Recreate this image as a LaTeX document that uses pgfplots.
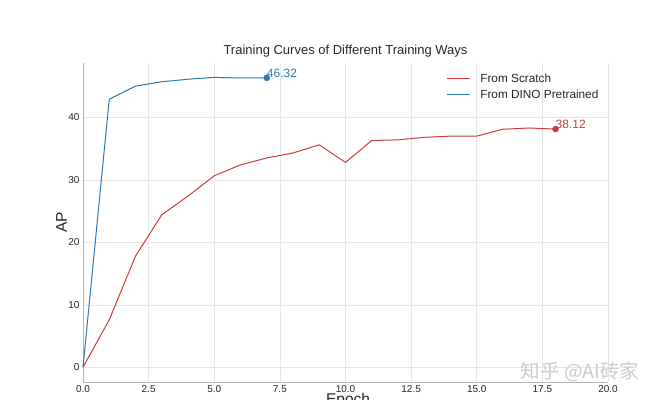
\documentclass[border=0pt]{standalone}
\usepackage{pgfplots}
\pgfplotsset{compat=1.18}
\usepackage{fontspec}
\setmainfont{Liberation Sans}
\newfontfamily\cjk{Noto Sans CJK SC}
\definecolor{cred}{HTML}{D03A3A}
\definecolor{cblue}{HTML}{2A7AB0}
\definecolor{gridc}{HTML}{E6E6E6}
\definecolor{spinec}{HTML}{B5B5B5}
\definecolor{txt}{HTML}{262626}
\begin{document}
\begin{tikzpicture}
\useasboundingbox (0pt,0pt) rectangle (658pt,399pt);
\clip (0pt,0pt) rectangle (658pt,399pt);
\begin{axis}[
  at={(83pt,17pt)}, anchor=south west,
  scale only axis, width=525pt, height=319pt,
  xmin=0, xmax=20, ymin=-2.35, ymax=48.7,
  xtick={0,2.5,...,20}, ytick={0,10,20,30,40},
  xticklabel style={/pgf/number format/fixed, /pgf/number format/fixed zerofill, /pgf/number format/precision=1},
  /pgf/number format/assume math mode=true,
  tick label style={font=\fontsize{10}{12}\selectfont, text=txt},
  axis x line*=bottom, axis y line*=left,
  axis line style={spinec, line width=0.8pt, -},
  major tick length=0pt,
  grid=major, grid style={gridc, line width=0.6pt},
  clip=false,
  title={Training Curves of Different Training Ways},
  title style={font=\fontsize{13}{16}\selectfont, text=txt, at={(axis description cs:0.5,1)}, anchor=base, yshift=2pt},
  ylabel={AP},
  ylabel style={font=\fontsize{15.5}{18}\selectfont, text=txt, at={(axis description cs:-0.041,0.5)}, anchor=center},
  xlabel={Epoch},
  xlabel style={font=\fontsize{15.5}{18}\selectfont, text=txt, at={(axis description cs:0.505,0)}, anchor=north, inner sep=0pt, yshift=-11.5pt},
  legend style={draw=none, fill=none, at={(axis description cs:0.686,0.98)}, anchor=north west, font=\fontsize{11.8}{15}\selectfont, text=txt, row sep=2pt},
  legend cell align=left,
  legend image code/.code={\draw[#1] (0pt,0pt) -- (23pt,0pt); \path (31pt,0pt);},
]
\addplot[cred, line width=1pt, mark=none] coordinates {
(0,0) (1,7.6) (2,17.8) (3,24.4) (4,27.4) (5,30.65) (6,32.4) (7,33.5) (8,34.3) (9,35.6)
(10,32.8) (11,36.3) (12,36.4) (13,36.8) (14,37.0) (15,37.0) (16,38.1) (17,38.3) (18,38.12)};
\addlegendentry{From Scratch}
\addplot[cblue, line width=1pt, mark=none] coordinates {
(0,0) (1,42.9) (2,45.0) (3,45.7) (4,46.1) (5,46.4) (6,46.3) (7,46.32)};
\addlegendentry{From DINO Pretrained}
\addplot[cred, only marks, mark=*, mark size=3pt, forget plot,
  nodes near coords={38.12}, nodes near coords align={anchor=south west},
  every node near coord/.append style={inner sep=0pt, text=cred, font=\fontsize{12}{14}\selectfont, yshift=0.5pt}]
  coordinates {(18,38.12)};
\addplot[cblue, only marks, mark=*, mark size=3pt, forget plot,
  nodes near coords={46.32}, nodes near coords align={anchor=south west},
  every node near coord/.append style={inner sep=0pt, text=cblue, font=\fontsize{12}{14}\selectfont, yshift=0.5pt}]
  coordinates {(7,46.32)};
\end{axis}
\node[text=black!20, font=\cjk\fontsize{19.5}{21}\selectfont, inner sep=0pt] at (580pt,27pt) {知乎 @AI砖家};
\end{tikzpicture}
\end{document}
